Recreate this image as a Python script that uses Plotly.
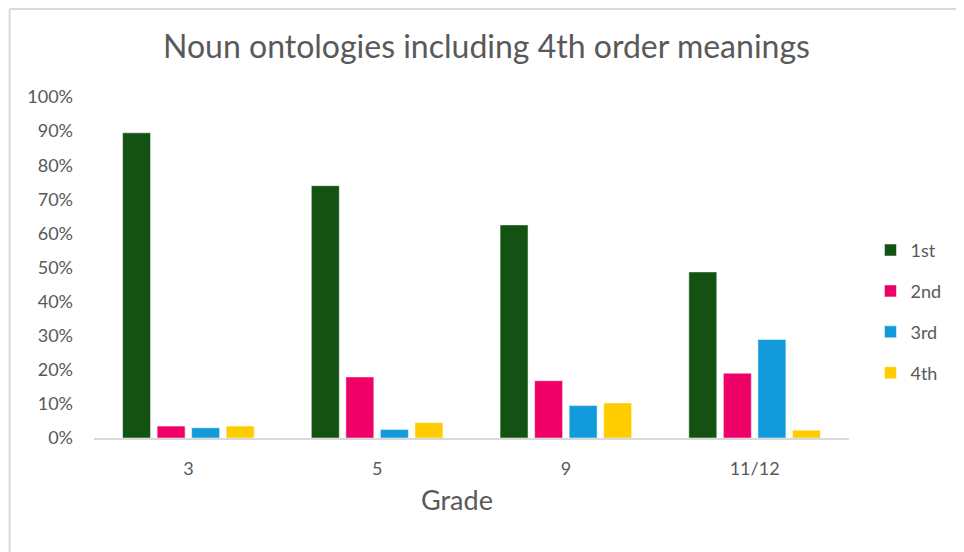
import plotly.graph_objects as go

# grades on the x axis
grades = ["3", "5", "9", "11/12"]

# share of noun ontologies per order (fractions)
first = [0.895, 0.740, 0.625, 0.487]
second = [0.035, 0.179, 0.168, 0.190]
third = [0.030, 0.025, 0.095, 0.289]
fourth = [0.035, 0.045, 0.103, 0.023]

series_names = ["1st", "2nd", "3rd", "4th"]
y_ticks = [i / 10 for i in range(11)]
y_labels = [f"{i * 10}%" for i in range(11)]

colors = ["#135213", "#EE0066", "#129ADB", "#FFCC00"]
font = "Lato, 'Open Sans', sans-serif"
grey = "#595959"

fig = go.Figure()
for i, (name, vals) in enumerate(zip(series_names, [first, second, third, fourth])):
  fig.add_trace(go.Bar(
    x=grades, y=vals, name=name, legendgroup=name,
    marker=dict(color=colors[i], line=dict(color="rgba(255,255,255,0.5)", width=1)),
  ))

# page body has an 8px margin, so the figure is a bit smaller
W, H = 956, 544
L, R, T, B = 85.5, 114.5, 89, 114
pw, ph = W - L - R, H - T - B
def px(x): return (x - L) / pw
def py(y): return (H - B - y) / ph

# chart frame (left + top edge only, like the source image)
fig.add_shape(type="line", xref="paper", yref="paper", x0=px(1), x1=px(1), y0=py(1), y1=py(H),
              line=dict(color="#D9D9D9", width=2))
fig.add_shape(type="line", xref="paper", yref="paper", x0=px(1), x1=px(W), y0=py(1), y1=py(1),
              line=dict(color="#D9D9D9", width=2))

fig.add_annotation(text="Grade", xref="paper", yref="paper", x=px(449), y=py(491),
                   xanchor="center", yanchor="middle", showarrow=False,
                   font=dict(size=27, color=grey))

fig.update_layout(
  width=W, height=H,
  margin=dict(l=L, r=R, t=T, b=B),
  paper_bgcolor="white", plot_bgcolor="white",
  barmode="group", bargap=0.268, bargroupgap=0.19,
  font=dict(family=font, color=grey, size=18),
  title=dict(text="Noun ontologies including 4th order meanings", x=0.5005, xanchor="center",
             y=1 - 39 / H, yanchor="middle", font=dict(size=32, color=grey)),
  xaxis=dict(showline=True, linecolor="#D9D9D9", linewidth=1.5, ticks="",
             tickfont=dict(size=18), ticklabelstandoff=14),
  yaxis=dict(range=[0, 1], tickvals=y_ticks, ticktext=y_labels, showgrid=False,
             zeroline=False, showline=False, ticks="", ticklabelstandoff=20,
             tickfont=dict(size=18)),
  legend=dict(x=px(863), xanchor="left", y=0.37, yanchor="middle", tracegroupgap=14.5,
              font=dict(size=18), itemwidth=30),
)

fig.write_html("out.html")
